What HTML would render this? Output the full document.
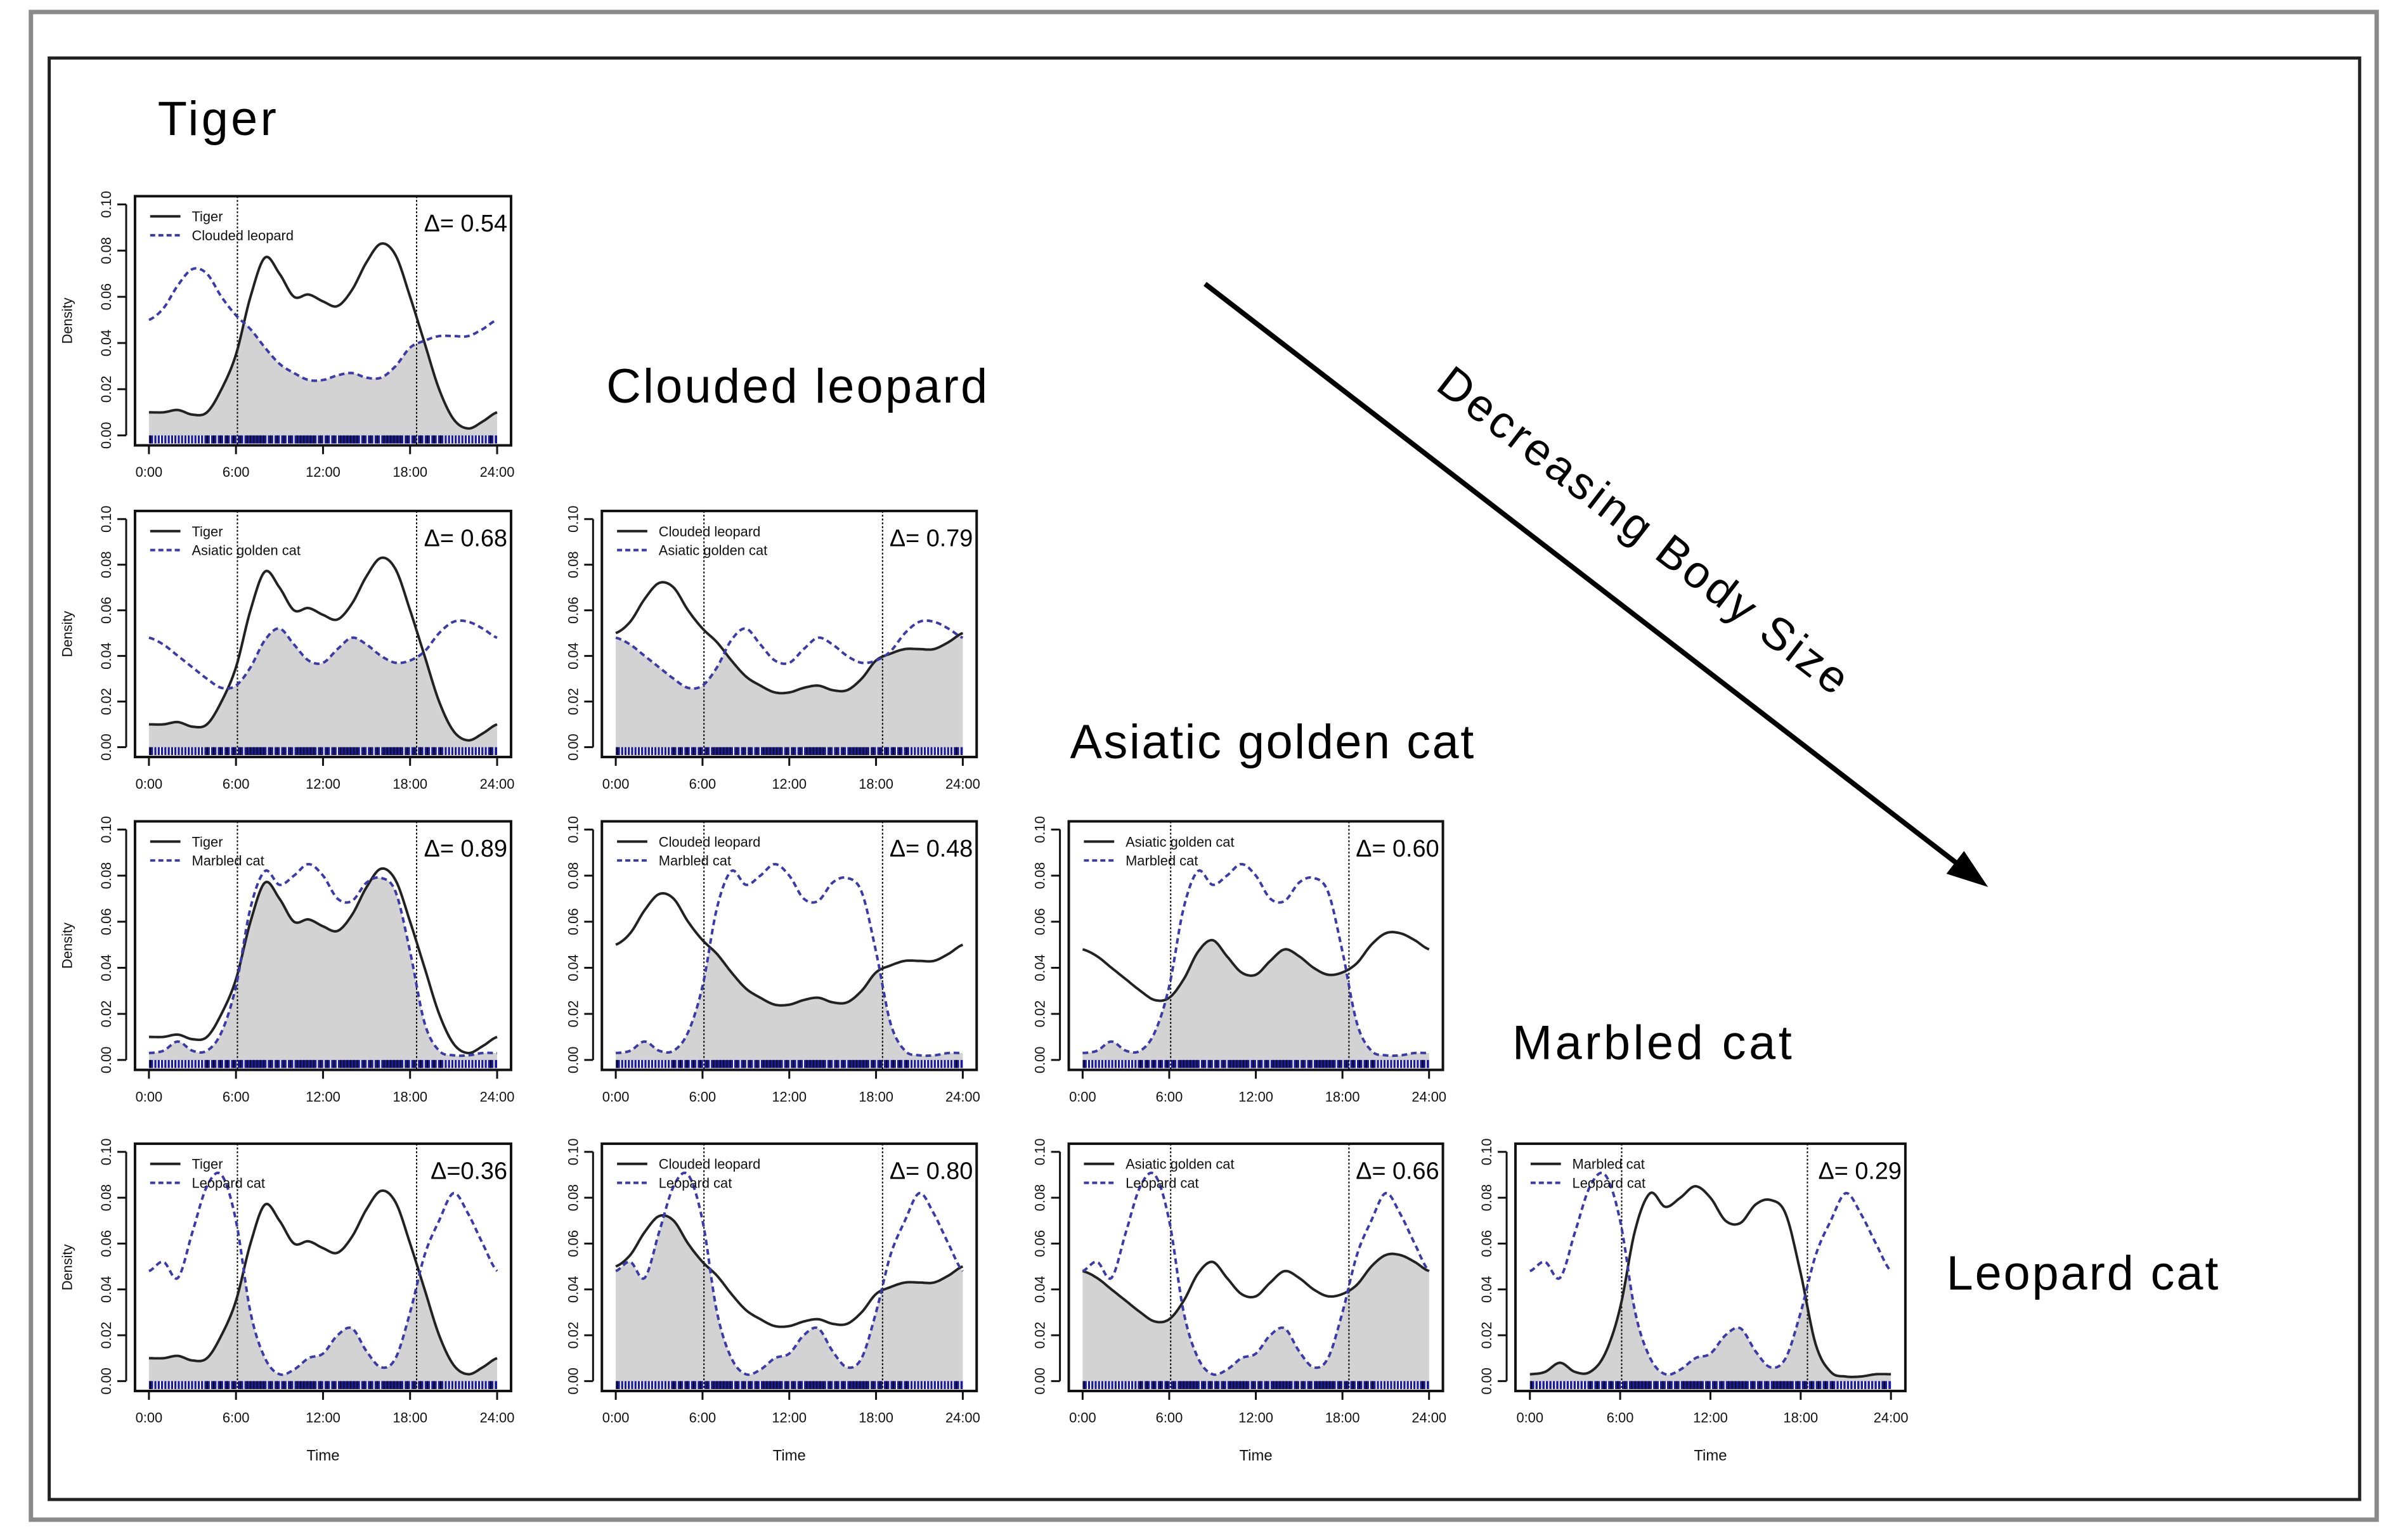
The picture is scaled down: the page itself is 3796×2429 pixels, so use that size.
<!DOCTYPE html>
<html><head><meta charset="utf-8"><style>
html,body{margin:0;padding:0;background:#fff}
svg{display:block}
text{font-family:"Liberation Sans",sans-serif}
</style></head><body>
<svg id="fig" width="3796" height="2429" viewBox="0 0 3796 2429" xmlns="http://www.w3.org/2000/svg">
<g transform="scale(0.995)">
<rect x="49" y="19" width="3718" height="2390" fill="none" stroke="#8a8a8a" stroke-width="7"/>
<rect x="78" y="92" width="3662" height="2285" fill="#fff" stroke="#222" stroke-width="5"/>
<text x="250" y="214" font-size="76" textLength="188">Tiger</text>
<text x="961" y="638" font-size="76" textLength="604">Clouded leopard</text>
<text x="1696" y="1202" font-size="76" textLength="640">Asiatic golden cat</text>
<text x="2397" y="1679" font-size="76" textLength="443">Marbled cat</text>
<text x="3085" y="2044" font-size="76" textLength="431">Leopard cat</text>
<g>
<line x1="1910" y1="450" x2="3110" y2="1375" stroke="#000" stroke-width="8"/>
<polygon points="3151,1406 3085,1385 3113,1349" fill="#000"/>
</g>
<text x="0" y="0" font-size="72" text-anchor="middle" textLength="800" transform="translate(2590,860) rotate(37.6)">Decreasing Body Size</text>
<g id="panels"></g>
</g>
</svg>
<script>
const hours = [0,1,2,3,4,5,6,7,8,9,10,11,12,13,14,15,16,17,18,19,20,21,22,23,24];
const tigerDensity = [0.010,0.010,0.011,0.009,0.010,0.020,0.035,0.060,0.077,0.070,0.060,0.061,0.058,0.056,0.063,0.075,0.083,0.078,0.060,0.040,0.020,0.007,0.003,0.006,0.010];
const cloudedDensity = [0.050,0.055,0.065,0.072,0.070,0.060,0.052,0.046,0.038,0.031,0.027,0.024,0.024,0.026,0.027,0.025,0.025,0.030,0.038,0.041,0.043,0.043,0.043,0.046,0.050];
const goldenDensity = [0.048,0.045,0.040,0.035,0.030,0.026,0.027,0.035,0.047,0.052,0.045,0.038,0.037,0.043,0.048,0.045,0.040,0.037,0.038,0.042,0.050,0.055,0.055,0.052,0.048];
const marbledDensity = [0.003,0.004,0.008,0.004,0.004,0.012,0.032,0.066,0.082,0.076,0.080,0.085,0.080,0.070,0.069,0.077,0.079,0.073,0.047,0.016,0.004,0.002,0.002,0.003,0.003];
const leopardDensity = [0.048,0.052,0.045,0.065,0.085,0.090,0.070,0.030,0.010,0.003,0.005,0.010,0.012,0.020,0.023,0.013,0.006,0.010,0.030,0.055,0.070,0.082,0.073,0.060,0.048];
const xTicks = [0,6,12,18,24];
const xTickLabels = ["0:00","6:00","12:00","18:00","24:00"];
const yTicks = [0,0.02,0.04,0.06,0.08,0.10];
const yTickLabels = ["0.00","0.02","0.04","0.06","0.08","0.10"];
const sunTimes = [6.1,18.45];
const panelRows = [0,1,1,2,2,2,3,3,3,3];
const panelCols = [0,0,1,0,1,2,0,1,2,3];
const panelA = ["Tiger","Tiger","Clouded leopard","Tiger","Clouded leopard","Asiatic golden cat","Tiger","Clouded leopard","Asiatic golden cat","Marbled cat"];
const panelB = ["Clouded leopard","Asiatic golden cat","Asiatic golden cat","Marbled cat","Marbled cat","Marbled cat","Leopard cat","Leopard cat","Leopard cat","Leopard cat"];
const deltas = ["Δ= 0.54","Δ= 0.68","Δ= 0.79","Δ= 0.89","Δ= 0.48","Δ= 0.60","Δ=0.36","Δ= 0.80","Δ= 0.66","Δ= 0.29"];
const series = {"Tiger":tigerDensity,"Clouded leopard":cloudedDensity,"Asiatic golden cat":goldenDensity,"Marbled cat":marbledDensity,"Leopard cat":leopardDensity};

const colL=[214,954,1694,2402], colR=[810,1548,2287,3020];
const rowT=[311,810,1302,1813], rowB=[706,1200,1696,2205];
const NS="http://www.w3.org/2000/svg";
const root=document.getElementById('panels');
function mk(tag,attrs,parent){const e=document.createElementNS(NS,tag);for(const k in attrs)e.setAttribute(k,attrs[k]);parent.appendChild(e);return e;}
function interp(arr,t){
  let i=Math.min(Math.floor(t),23), f=t-i;
  const p0=arr[Math.max(i-1,0)],p1=arr[i],p2=arr[i+1],p3=arr[Math.min(i+2,24)];
  return 0.5*((2*p1)+(-p0+p2)*f+(2*p0-5*p1+4*p2-p3)*f*f+(-p0+3*p1-3*p2+p3)*f*f*f);
}
for(let p=0;p<panelRows.length;p++){
  const L=colL[panelCols[p]],R=colR[panelCols[p]],T=rowT[panelRows[p]],B=rowB[panelRows[p]];
  const W=R-L,H=B-T;
  const xs=t=>L+0.037*W+t/24*0.926*W;
  const ys=v=>T+0.96*H-v/0.1*0.927*H;
  const g=mk('g',{},root);
  
  
  const a=series[panelA[p]], b=series[panelB[p]];
  const N=240; let fillPts=[], pa=[], pb=[];
  for(let k=0;k<=N;k++){const t=24*k/N;const va=interp(a,t),vb=interp(b,t);
    pa.push(xs(t).toFixed(1)+','+ys(va).toFixed(1));pb.push(xs(t).toFixed(1)+','+ys(vb).toFixed(1));
    fillPts.push(xs(t).toFixed(1)+','+ys(Math.max(0,Math.min(va,vb))).toFixed(1));}
  fillPts.push(xs(24).toFixed(1)+','+ys(0).toFixed(1));fillPts.push(xs(0).toFixed(1)+','+ys(0).toFixed(1));
  const ov=mk('polygon',{points:fillPts.join(' '),fill:'#d3d3d3'},g);
  
  
  const rug=mk('rect',{x:xs(0),y:ys(0),width:xs(24)-xs(0),height:B-ys(0)-3,fill:'#1a1aa0'},g);
  
  
  for(let t=0.1;t<24;t+=0.23){const day=t>6&&t<18.5;
    mk('line',{x1:xs(t),x2:xs(t),y1:ys(0),y2:B-3,stroke:day?(Math.floor(t*7)%3?'#111':'#fff'):(Math.floor(t*9)%4?'#fff':'#000'),'stroke-width':2},g);}
  for(const s of sunTimes){const l=mk('line',{x1:xs(s),x2:xs(s),y1:T,y2:B,stroke:'#000','stroke-width':2,'stroke-dasharray':'3,3'},g);
    
    }
  const la=mk('polyline',{points:pa.join(' '),fill:'none',stroke:'#222','stroke-width':4},g);
  
  
  const lb=mk('polyline',{points:pb.join(' '),fill:'none',stroke:'#3a3aa8','stroke-width':4,'stroke-dasharray':'9,6'},g);
  
  
  const box=mk('rect',{x:L,y:T,width:W,height:H,fill:'none',stroke:'#111','stroke-width':4},g);
  
  
  for(let i=0;i<xTicks.length;i++){const x=xs(xTicks[i]);
    mk('line',{x1:x,x2:x,y1:B,y2:B+14,stroke:'#111','stroke-width':3},g);
    const tx=mk('text',{x:x,y:B+50,'font-size':22,'text-anchor':'middle',fill:'#111'},g);tx.textContent=xTickLabels[i];
    
    }
  mk('line',{x1:L-14,x2:L-14,y1:ys(0),y2:ys(0.1),stroke:'#111','stroke-width':3},g);
  for(let i=0;i<yTicks.length;i++){const y=ys(yTicks[i]);
    mk('line',{x1:L-28,x2:L-14,y1:y,y2:y,stroke:'#111','stroke-width':3},g);
    const tx=mk('text',{x:0,y:0,'font-size':22,'text-anchor':'middle',fill:'#111',transform:`translate(${L-38},${y}) rotate(-90)`},g);tx.textContent=yTickLabels[i];
    
    }
  if(panelCols[p]===0){const d=mk('text',{x:0,y:0,'font-size':22,'text-anchor':'middle',fill:'#111',transform:`translate(${L-100},${(T+B)/2}) rotate(-90)`},g);d.textContent='Density';
    
    }
  if(panelRows[p]===3){const d=mk('text',{x:(L+R)/2,y:B+110,'font-size':24,'text-anchor':'middle',fill:'#111'},g);d.textContent='Time';
    
    }
  const lg=mk('g',{},g);
  
  
  mk('line',{x1:L+24,x2:L+72,y1:T+32,y2:T+32,stroke:'#222','stroke-width':4},lg);
  mk('line',{x1:L+24,x2:L+72,y1:T+62,y2:T+62,stroke:'#3a3aa8','stroke-width':4,'stroke-dasharray':'8,5'},lg);
  const t1=mk('text',{x:L+90,y:T+40,'font-size':22,fill:'#111'},lg);t1.textContent=panelA[p];
  const t2=mk('text',{x:L+90,y:T+70,'font-size':22,fill:'#111'},lg);t2.textContent=panelB[p];
  const dt=mk('text',{x:R-6,y:T+56,'font-size':38,'text-anchor':'end',fill:'#000'},g);dt.textContent=deltas[p];
  
  
}
</script>
</body></html>
